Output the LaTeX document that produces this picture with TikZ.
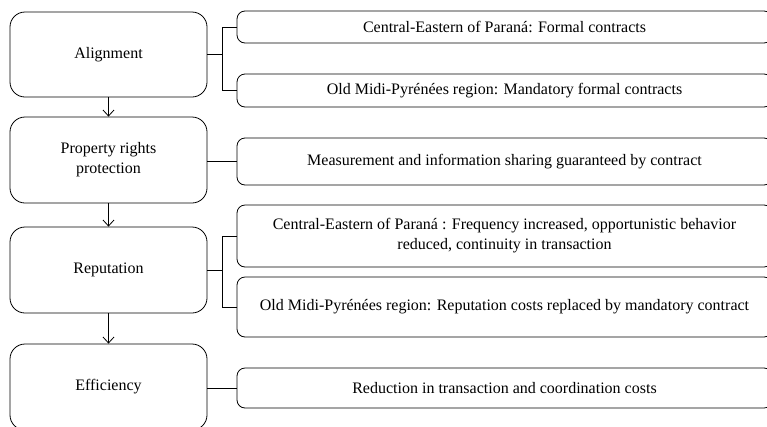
\documentclass[tikz,border=0pt]{standalone}
\usepackage{fontspec}
\setmainfont{Liberation Serif}
\usetikzlibrary{arrows.meta}

\begin{document}
\begin{tikzpicture}[x=1pt,y=-1pt,line width=0.8pt,
  every node/.style={font=\fontsize{16}{20}\selectfont},
  stage/.style={draw,rounded corners=15pt,minimum width=197pt,align=center,inner sep=0pt},
  detail/.style={draw,rounded corners=8pt,minimum width=535pt,align=center,inner sep=0pt},
  flow/.style={-{Straight Barb[length=6pt,width=11pt]}}]
  \clip (0,0) rectangle (767,426);

  % Stages
  \node[stage,minimum height=85pt] (align) at (108.5,54.5) {Alignment};
  \node[stage,minimum height=86pt] (prop) at (108.5,160) {Property rights\\protection};
  \node[stage,minimum height=86pt] (rep) at (108.5,270) {Reputation};
  \node[stage,minimum height=86pt] (eff) at (108.5,387) {Efficiency};

  % Stage arrows
  \draw[flow] (align) -- (prop);
  \draw[flow] (prop) -- (rep);
  \draw[flow] (rep) -- (eff);

  % Details
  \node[detail,minimum height=32pt] (a1) at (504.5,27) {Central-Eastern of Paraná: Formal contracts};
  \node[detail,minimum height=33pt] (a2) at (504.5,90.5) {Old Midi-Pyrénées region: Mandatory formal contracts};
  \node[detail,minimum height=47pt] (p1) at (504.5,161.5) {Measurement and information sharing guaranteed by contract};
  \node[detail,minimum height=62pt] (r1) at (504.5,236) {Central-Eastern of Paraná : Frequency increased, opportunistic behavior\\reduced, continuity in transaction};
  \node[detail,minimum height=60pt] (r2) at (504.5,307) {Old Midi-Pyrénées region: Reputation costs replaced by mandatory contract};
  \node[detail,minimum height=40pt] (e1) at (504.5,388) {Reduction in transaction and coordination costs};

  % Links
  \draw (align.east) -- ++(15,0) coordinate (ab) |- (a1.west);
  \draw (ab) |- (a2.west);
  \draw (prop.east |- p1.west) -- (p1.west);
  \draw (rep.east) -- ++(15,0) coordinate (rb) |- (r1.west);
  \draw (rb) |- (r2.west);
  \draw (eff.east |- e1.west) -- (e1.west);
\end{tikzpicture}
\end{document}
